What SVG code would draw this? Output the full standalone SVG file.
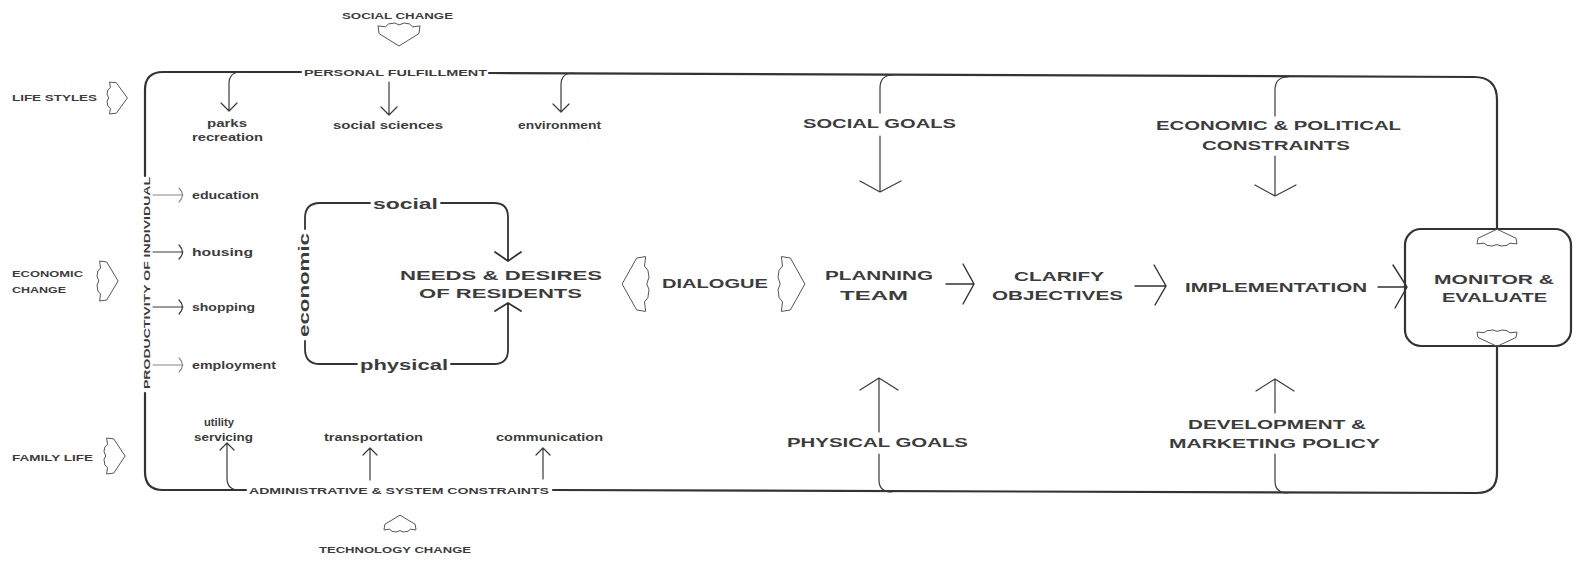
<svg xmlns="http://www.w3.org/2000/svg" width="1577" height="561" viewBox="0 0 1577 561">
<defs>
<style>
text{font-family:"Liberation Sans",Arial,sans-serif;font-weight:bold;fill:#3c3c3c;dominant-baseline:central}
.s{font-size:9.5px}
.lc{font-size:10px}
.m{font-size:12.5px}
.b{font-size:13.5px}
.lp{font-size:15px}
.frame{fill:none;stroke:#333;stroke-width:2.2;stroke-linecap:round;stroke-linejoin:round}
.thin{fill:none;stroke:#3a3a3a;stroke-width:1.2;stroke-linecap:round;stroke-linejoin:round}
.light{fill:none;stroke:#888;stroke-width:1.1;stroke-linecap:round;stroke-linejoin:round}
.med{fill:none;stroke:#333;stroke-width:1.8;stroke-linecap:round;stroke-linejoin:round}
.flow{fill:none;stroke:#333;stroke-width:1.4;stroke-linecap:round;stroke-linejoin:miter}
.chev{fill:none;stroke:#555;stroke-width:1}
</style>
<path id="chv" vector-effect="non-scaling-stroke" d="M3,-20 L11,-19 L24,0 L11,19 L3,20 L4,13 L1,10 L0,4 L2,0 L0,-5 L1,-10 L4,-13 Z"/>
</defs>
<rect width="1577" height="561" fill="#fff"/>

<g id="connectors">
  <path class="frame" d="M145,176 L145,90 Q145,72 163,72 L301,72"/>
  <path class="frame" d="M489,73 L1474,77 Q1497,77 1497,100 L1497,229"/>
  <path class="frame" d="M145,393 L145,472 Q145,490 163,490 L246,490"/>
  <path class="frame" d="M553,490 L1477,493 Q1497,493 1497,473 L1497,346"/>
  <path class="thin" d="M241,72 Q229,72 229,84 L229,111 M221,103 L229,111 L237,103"/>
  <path class="thin" d="M389,82 L389,115 M381,107 L389,115 L397,107"/>
  <path class="thin" d="M573,73 Q561,73 561,85 L561,112 M553,104 L561,112 L569,104"/>
  <path class="thin" d="M893,75 Q880,75 880,88 L880,113 M880,136 L880,192 M860,181 L880,192 L901,181"/>
  <path class="thin" d="M1288,77 Q1275,77 1275,90 L1275,116 M1275,156 L1275,196 M1255,185 L1275,196 L1296,185"/>
  <path class="thin" d="M879,378 L879,432 M879,454 L879,480 Q879,492 892,492 M860,390 L879,378 L898,390"/>
  <path class="thin" d="M1275,379 L1275,413 M1275,454 L1275,481 Q1275,493 1288,493 M1256,391 L1275,379 L1294,391"/>
  <path class="thin" d="M227,443 L227,478 Q227,490 239,490 M220,450 L227,443 L234,450"/>
  <path class="thin" d="M370,448 L370,480 M363,455 L370,448 L377,455"/>
  <path class="thin" d="M543,448 L543,479 M536,455 L543,448 L550,455"/>
  <path class="light" d="M153,195 L183,195 M179,188 Q186,195 179,202"/>
  <path class="thin" d="M153,252 L183,252 M179,245 Q186,252 179,259"/>
  <path class="thin" d="M153,307 L183,307 M179,300 Q186,307 179,314"/>
  <path class="light" d="M153,365 L183,365 M179,358 Q186,365 179,372"/>
  <path class="med" d="M370,203 L320,203 Q305,203 305,218 L305,229"/>
  <path class="med" d="M305,341 L305,349 Q305,364 320,364 L357,364"/>
  <path class="med" d="M441,203 L494,203 Q508,203 508,217 L508,261 M495,252 L508,261 L521,252"/>
  <path class="med" d="M451,364 L494,364 Q508,364 508,350 L508,303 M495,311 L508,303 L521,311"/>
  <path class="flow" d="M946,284 L973,284 M963,264 L974,284 L963,304"/>
  <path class="flow" d="M1135,286 L1165,286 M1154,265 L1166,286 L1155,305"/>
  <path class="flow" d="M1378,287 L1406,287 M1393,265 L1407,287 L1395,308"/>
</g>

<g id="change-arrows" class="chev">
  <use href="#chv" transform="translate(107,98) scale(0.85,0.8)"/>
  <use href="#chv" transform="translate(97,281) scale(0.88,1.0)"/>
  <use href="#chv" transform="translate(104,456) scale(0.88,0.9)"/>
  <use href="#chv" transform="translate(399,23) rotate(90) scale(0.96,1.05)"/>
  <use href="#chv" transform="translate(400,532) rotate(-90) scale(0.7,0.8)"/>
</g>

<g id="social-change"><text class="s" x="342" y="15" textLength="111" lengthAdjust="spacingAndGlyphs">SOCIAL CHANGE</text></g>
<g id="personal-fulfillment"><text class="s" x="304" y="72" textLength="183" lengthAdjust="spacingAndGlyphs">PERSONAL FULFILLMENT</text></g>
<g id="life-styles"><text class="s" x="12" y="97" textLength="85" lengthAdjust="spacingAndGlyphs">LIFE STYLES</text></g>
<g id="economic-change"><text class="s" x="12" y="273" textLength="71" lengthAdjust="spacingAndGlyphs">ECONOMIC</text><text class="s" x="12" y="289" textLength="54" lengthAdjust="spacingAndGlyphs">CHANGE</text></g>
<g id="family-life"><text class="s" x="12" y="457" textLength="81" lengthAdjust="spacingAndGlyphs">FAMILY LIFE</text></g>
<g id="admin"><text class="s" x="249" y="490" textLength="300" lengthAdjust="spacingAndGlyphs">ADMINISTRATIVE &amp; SYSTEM CONSTRAINTS</text></g>
<g id="technology-change"><text class="s" x="319" y="549" textLength="152" lengthAdjust="spacingAndGlyphs">TECHNOLOGY CHANGE</text></g>
<g id="productivity"><text class="s" transform="translate(146,283) rotate(-90)" x="-106" y="0" textLength="212" lengthAdjust="spacingAndGlyphs">PRODUCTIVITY OF INDIVIDUAL</text></g>

<g id="parks"><text class="lc" x="207" y="123" textLength="40" lengthAdjust="spacingAndGlyphs">parks</text><text class="lc" x="192" y="137" textLength="71" lengthAdjust="spacingAndGlyphs">recreation</text></g>
<g id="social-sciences"><text class="lc" x="333" y="125" textLength="110" lengthAdjust="spacingAndGlyphs">social sciences</text></g>
<g id="environment"><text class="lc" x="518" y="125" textLength="83" lengthAdjust="spacingAndGlyphs">environment</text></g>
<g id="education"><text class="lc" x="192" y="195" textLength="67" lengthAdjust="spacingAndGlyphs">education</text></g>
<g id="housing"><text class="lc" x="192" y="252" textLength="61" lengthAdjust="spacingAndGlyphs">housing</text></g>
<g id="shopping"><text class="lc" x="192" y="307" textLength="63" lengthAdjust="spacingAndGlyphs">shopping</text></g>
<g id="employment"><text class="lc" x="192" y="365" textLength="84" lengthAdjust="spacingAndGlyphs">employment</text></g>
<g id="utility"><text class="lc" x="204" y="422" textLength="30" lengthAdjust="spacingAndGlyphs">utility</text><text class="lc" x="194" y="437" textLength="59" lengthAdjust="spacingAndGlyphs">servicing</text></g>
<g id="transportation"><text class="lc" x="324" y="437" textLength="99" lengthAdjust="spacingAndGlyphs">transportation</text></g>
<g id="communication"><text class="lc" x="496" y="437" textLength="107" lengthAdjust="spacingAndGlyphs">communication</text></g>

<g id="loop-labels">
  <text class="lp" x="373" y="203" textLength="65" lengthAdjust="spacingAndGlyphs">social</text>
  <text class="lp" x="360" y="364" textLength="88" lengthAdjust="spacingAndGlyphs">physical</text>
  <text class="lp" transform="translate(303,285) rotate(-90)" x="-52" y="0" textLength="104" lengthAdjust="spacingAndGlyphs">economic</text>
</g>
<g id="needs"><text class="b" x="400" y="275" textLength="202" lengthAdjust="spacingAndGlyphs">NEEDS &amp; DESIRES</text><text class="b" x="419" y="293" textLength="163" lengthAdjust="spacingAndGlyphs">OF  RESIDENTS</text></g>
<g id="dialogue">
  <g class="chev">
    <use href="#chv" transform="translate(649,284) scale(-1.12,1.37)"/>
    <use href="#chv" transform="translate(778,284) scale(1.12,1.37)"/>
  </g>
  <text class="b" x="662" y="283" textLength="106" lengthAdjust="spacingAndGlyphs">DIALOGUE</text>
</g>
<g id="planning-team"><text class="b" x="825" y="275" textLength="108" lengthAdjust="spacingAndGlyphs">PLANNING</text><text class="b" x="840" y="295" textLength="68" lengthAdjust="spacingAndGlyphs">TEAM</text></g>
<g id="clarify"><text class="b" x="1014" y="276" textLength="90" lengthAdjust="spacingAndGlyphs">CLARIFY</text><text class="b" x="992" y="295" textLength="131" lengthAdjust="spacingAndGlyphs">OBJECTIVES</text></g>
<g id="implementation"><text class="b" x="1185" y="287" textLength="182" lengthAdjust="spacingAndGlyphs">IMPLEMENTATION</text></g>
<g id="monitor">
  <rect class="frame" x="1405" y="229" width="166" height="117" rx="16"/>
  <g class="chev">
    <use href="#chv" transform="translate(1497,246) rotate(-90) scale(0.7,1.0)"/>
    <use href="#chv" transform="translate(1497,330) rotate(90) scale(0.68,1.0)"/>
  </g>
  <text class="b" x="1434" y="279" textLength="120" lengthAdjust="spacingAndGlyphs">MONITOR &amp;</text>
  <text class="b" x="1442" y="297" textLength="105" lengthAdjust="spacingAndGlyphs">EVALUATE</text>
</g>
<g id="social-goals"><text class="m" x="803" y="124" textLength="153" lengthAdjust="spacingAndGlyphs">SOCIAL GOALS</text></g>
<g id="econ-political"><text class="m" x="1156" y="126" textLength="245" lengthAdjust="spacingAndGlyphs">ECONOMIC &amp; POLITICAL</text><text class="m" x="1202" y="146" textLength="148" lengthAdjust="spacingAndGlyphs">CONSTRAINTS</text></g>
<g id="physical-goals"><text class="m" x="787" y="443" textLength="181" lengthAdjust="spacingAndGlyphs">PHYSICAL GOALS</text></g>
<g id="development"><text class="m" x="1188" y="425" textLength="178" lengthAdjust="spacingAndGlyphs">DEVELOPMENT &amp;</text><text class="m" x="1169" y="444" textLength="211" lengthAdjust="spacingAndGlyphs">MARKETING POLICY</text></g>
</svg>
